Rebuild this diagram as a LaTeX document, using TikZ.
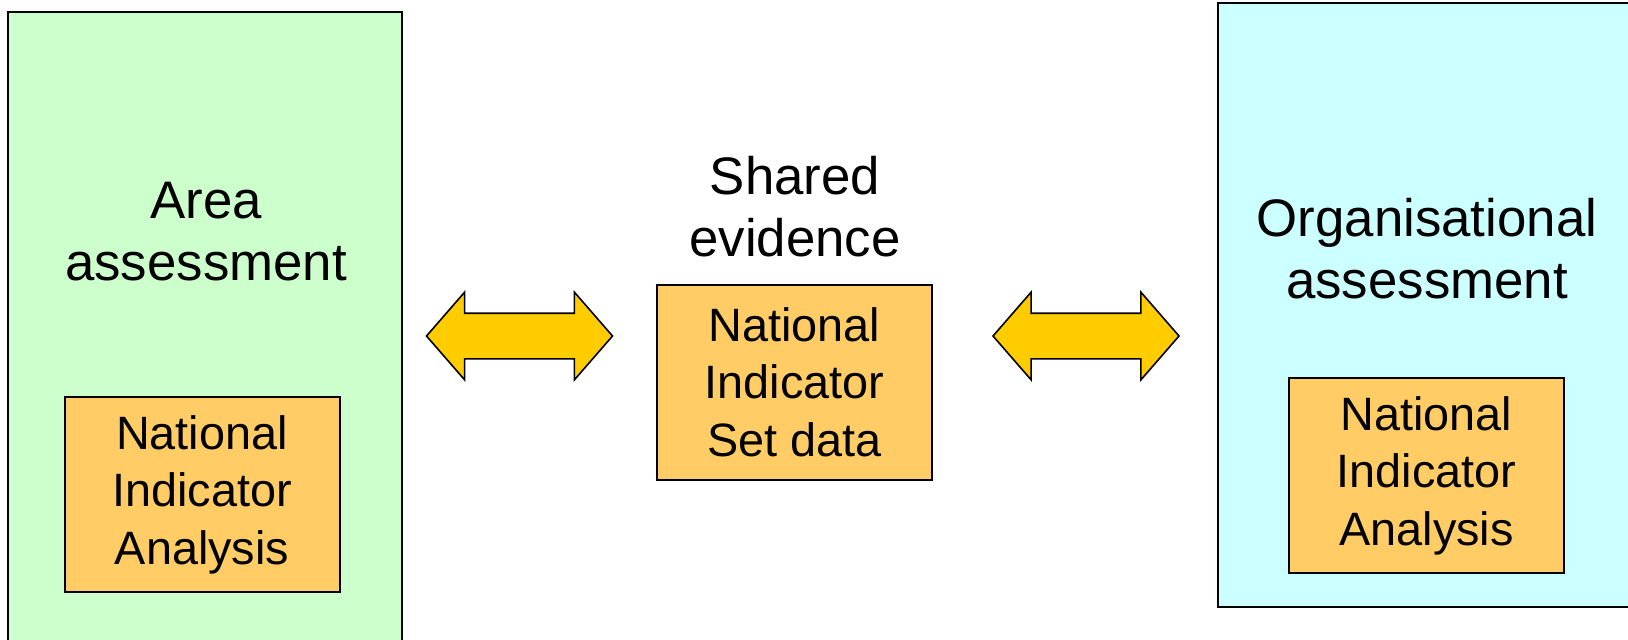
\documentclass[tikz,border=0pt]{standalone}
\usepackage{fontspec}
\setmainfont{Liberation Sans}
\usetikzlibrary{shapes.arrows}
\definecolor{areagreen}{HTML}{CCFFCC}
\definecolor{orgcyan}{HTML}{CCFFFF}
\definecolor{niorange}{HTML}{FFCC66}
\definecolor{arrowgold}{HTML}{FFCC00}

\begin{document}
\begin{tikzpicture}[x=0.5pt,y=-0.5pt,
    big/.style={draw,line width=1pt,inner sep=0pt},
    ni/.style={draw,fill=niorange,line width=1pt,minimum width=137.5pt,minimum height=97.5pt,inner sep=0pt,align=center,font=\fontsize{23.4}{28.75}\selectfont},
    title/.style={align=center,font=\fontsize{26.4}{31}\selectfont},
    twoway/.style={double arrow,draw,fill=arrowgold,line width=0.8pt,minimum height=93pt,inner xsep=0pt,inner ysep=11pt,double arrow head extend=10.5pt,double arrow tip angle=98}]
      \useasboundingbox (0,0) rectangle (1628,639);
      \clip (0,0) rectangle (1628,639);
      \node[big,fill=areagreen,minimum width=197pt,minimum height=324pt] (area) at (205,336) {};
      \node[big,fill=orgcyan,minimum width=211pt,minimum height=302pt] (org) at (1429,305) {};
      \node[title] (areat) at (206,232) {Area\\assessment};
      \node[title] (midt) at (795,207) {Shared\\evidence};
      \node[title] (orgt) at (1427,249) {Organisational\\assessment};
      \node[ni] (a1) at (202,494.5) {National\\Indicator\\Analysis};
      \node[ni] (m1) at (794.5,382) {National\\Indicator\\Set data};
      \node[ni] (o1) at (1426.5,475.5) {National\\Indicator\\Analysis};
      \node[twoway] (arr1) at (519.5,336) {};
      \node[twoway] (arr2) at (1086,336) {};
    \end{tikzpicture}
\end{document}
